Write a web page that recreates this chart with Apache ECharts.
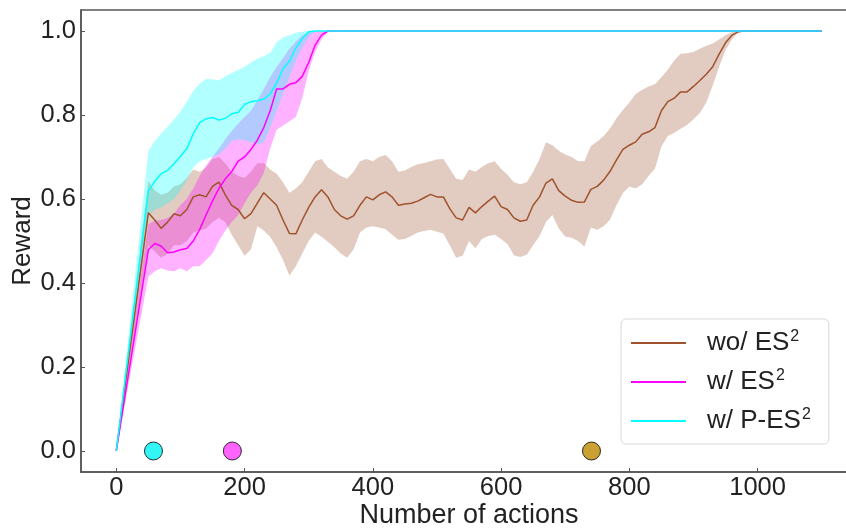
<!DOCTYPE html>
<html>
<head>
<meta charset="utf-8">
<script src="https://cdn.jsdelivr.net/npm/echarts@6/dist/echarts.min.js"></script>
<style>
  html, body { margin: 0; padding: 0; background: #fff; }
  #chart { width: 846px; height: 528px; }
</style>
</head>
<body>
<div id="chart"></div>
<script>
// x positions (number of actions)
const actions = [0,
  50, 60, 70, 80, 90, 100, 110, 120, 130, 140,
  150, 160, 170, 180, 190, 200, 210, 220, 230, 240,
  250, 260, 270, 280, 290, 300, 310, 320, 330, 340,
  350, 360, 370, 380, 390, 400, 410, 420, 430, 440,
  450, 460, 470, 480, 490, 500, 510, 520, 530, 540,
  550, 560, 570, 580, 590, 600, 610, 620, 630, 640,
  650, 660, 670, 680, 690, 700, 710, 720, 730, 740,
  750, 760, 770, 780, 790, 800, 810, 820, 830, 840,
  850, 860, 870, 880, 890, 900, 910, 920, 930, 940,
  950, 960, 970, 980, 990, 1000,
  1100]
const actionsEarly = [0,
  50, 60, 70, 80, 90, 100, 110, 120, 130, 140,
  150, 160, 170, 180, 190, 200, 210, 220, 230, 240,
  250, 260, 270, 280, 290, 300, 310, 320, 330, 340,
  1100]

// wo/ ES2
const woMean = [0,
  0.567, 0.55, 0.53, 0.545, 0.565, 0.56, 0.575, 0.605, 0.61, 0.605,
  0.63, 0.64, 0.61, 0.585, 0.575, 0.553, 0.565, 0.59, 0.615, 0.60,
  0.585, 0.55, 0.518, 0.517, 0.55, 0.58, 0.605, 0.622, 0.605, 0.575,
  0.56, 0.552, 0.56, 0.585, 0.605, 0.598, 0.61, 0.617, 0.605, 0.585,
  0.588, 0.59, 0.595, 0.603, 0.611, 0.605, 0.605, 0.577, 0.555, 0.55,
  0.58, 0.567, 0.582, 0.595, 0.607, 0.582, 0.575, 0.555, 0.547, 0.55,
  0.585, 0.605, 0.638, 0.648, 0.62, 0.607, 0.597, 0.592, 0.593, 0.623,
  0.63, 0.645, 0.666, 0.693, 0.718, 0.728, 0.736, 0.754, 0.76, 0.77,
  0.81, 0.832, 0.84, 0.855, 0.855, 0.868, 0.882, 0.897, 0.915, 0.945,
  0.972, 0.99, 0.998, 1.0, 1.0, 1.0,
  1.0]
const woUpper = [0,
  0.643, 0.62, 0.61, 0.615, 0.63, 0.635, 0.65, 0.67, 0.665, 0.675,
  0.695, 0.70, 0.685, 0.665, 0.655, 0.65, 0.665, 0.685, 0.685, 0.67,
  0.66, 0.64, 0.615, 0.625, 0.64, 0.665, 0.69, 0.695, 0.675, 0.665,
  0.655, 0.648, 0.665, 0.69, 0.695, 0.69, 0.70, 0.705, 0.69, 0.665,
  0.668, 0.676, 0.683, 0.686, 0.69, 0.694, 0.695, 0.672, 0.648, 0.645,
  0.67, 0.665, 0.676, 0.685, 0.69, 0.672, 0.658, 0.64, 0.635, 0.64,
  0.665, 0.695, 0.735, 0.728, 0.715, 0.706, 0.70, 0.69, 0.69, 0.726,
  0.737, 0.75, 0.768, 0.792, 0.812, 0.83, 0.85, 0.86, 0.868, 0.873,
  0.89, 0.908, 0.93, 0.946, 0.947, 0.95, 0.958, 0.965, 0.97, 0.98,
  0.99, 0.997, 1.0, 1.0, 1.0, 1.0,
  1.0]
const woLower = [0,
  0.49, 0.475, 0.46, 0.47, 0.49, 0.49, 0.50, 0.52, 0.525, 0.53,
  0.545, 0.555, 0.545, 0.515, 0.49, 0.465, 0.48, 0.535, 0.525, 0.51,
  0.485, 0.455, 0.418, 0.44, 0.47, 0.50, 0.52, 0.51, 0.498, 0.485,
  0.47, 0.46, 0.48, 0.52, 0.532, 0.535, 0.532, 0.528, 0.515, 0.503,
  0.505, 0.512, 0.52, 0.524, 0.527, 0.522, 0.518, 0.49, 0.46, 0.465,
  0.50, 0.483, 0.505, 0.512, 0.515, 0.505, 0.493, 0.466, 0.462, 0.467,
  0.49, 0.512, 0.545, 0.562, 0.53, 0.511, 0.508, 0.50, 0.487, 0.532,
  0.527, 0.535, 0.551, 0.585, 0.614, 0.63, 0.625, 0.635, 0.655, 0.672,
  0.725, 0.75, 0.758, 0.767, 0.776, 0.79, 0.805, 0.83, 0.87, 0.915,
  0.955, 0.98, 0.998, 1.0, 1.0, 1.0,
  1.0]

// w/ ES2
const wMean = [0,
  0.479, 0.494, 0.488, 0.472, 0.474, 0.479, 0.482, 0.50, 0.527, 0.562,
  0.595, 0.625, 0.648, 0.665, 0.69, 0.70, 0.718, 0.74, 0.77, 0.81,
  0.862, 0.862, 0.873, 0.877, 0.892, 0.925, 0.966, 0.99, 1.0, 1.0,
  1.0]
const wUpper = [0,
  0.54, 0.548, 0.55, 0.555, 0.565, 0.585, 0.60, 0.625, 0.655, 0.68,
  0.70, 0.72, 0.742, 0.762, 0.78, 0.795, 0.81, 0.835, 0.862, 0.89,
  0.915, 0.935, 0.958, 0.975, 0.99, 0.997, 1.0, 1.0, 1.0, 1.0,
  1.0]
const wLower = [0,
  0.415, 0.428, 0.435, 0.43, 0.428, 0.435, 0.428, 0.44, 0.44, 0.455,
  0.47, 0.50, 0.525, 0.545, 0.562, 0.59, 0.615, 0.633, 0.662, 0.72,
  0.765, 0.775, 0.785, 0.795, 0.84, 0.905, 0.95, 0.98, 0.998, 1.0,
  1.0]

// w/ P-ES2
const pMean = [0,
  0.619, 0.642, 0.66, 0.668, 0.684, 0.702, 0.72, 0.755, 0.782, 0.791,
  0.794, 0.788, 0.792, 0.803, 0.806, 0.825, 0.832, 0.834, 0.838, 0.85,
  0.876, 0.91, 0.928, 0.96, 0.982, 0.998, 1.0, 1.0, 1.0, 1.0,
  1.0]
const pUpper = [0,
  0.714, 0.738, 0.756, 0.772, 0.79, 0.808, 0.832, 0.857, 0.875, 0.886,
  0.885, 0.882, 0.892, 0.90, 0.907, 0.915, 0.925, 0.934, 0.94, 0.948,
  0.973, 0.985, 0.99, 0.996, 0.998, 1.0, 1.0, 1.0, 1.0, 1.0,
  1.0]
const pLower = [0,
  0.56, 0.575, 0.58, 0.59, 0.60, 0.62, 0.645, 0.675, 0.69, 0.695,
  0.70, 0.706, 0.72, 0.738, 0.742, 0.74, 0.735, 0.73, 0.735, 0.77,
  0.81, 0.85, 0.89, 0.93, 0.96, 0.985, 1.0, 1.0, 1.0, 1.0,
  1.0]

// markers on the x axis
const markerActions = [58, 181, 741]
const markerRewards = [0, 0, 0]

const xTicks = [0, 200, 400, 600, 800, 1000]
const yTicks = [0, 0.2, 0.4, 0.6, 0.8, 1.0]
const seriesNames = ['wo/ ES2', 'w/ ES2', 'w/ P-ES2']

const FONT = '"Liberation Sans", Arial, sans-serif'
const chart = echarts.init(document.getElementById('chart'), null, { renderer: 'canvas' })

function pairs(xs, ys) {
  return xs.map((x, i) => [x, ys[i]])
}

// shaded region between lower and upper, drawn as one polygon
function bandSeries(xs, lower, upper, fill) {
  return {
    type: 'custom',
    silent: true,
    clip: true,
    data: [[xs[0], lower[0]]],
    renderItem: (params, api) => {
      const top = xs.map((x, i) => api.coord([x, upper[i]]))
      const bottom = xs.map((x, i) => api.coord([x, lower[i]])).reverse()
      return {
        type: 'polygon',
        shape: { points: top.concat(bottom) },
        style: { fill }
      }
    }
  }
}

function meanSeries(name, xs, ys, color) {
  return {
    name,
    type: 'line',
    data: pairs(xs, ys),
    symbol: 'none',
    silent: true,
    itemStyle: { color },
    lineStyle: { color, width: 1.5 }
  }
}

const markerColors = ['#00f2f2', '#ff3dff', '#bf8900']

chart.setOption({
  animation: false,
  grid: {
    left: 81, top: 10, width: 776, height: 462,
    containLabel: false, outerBoundsMode: 'none',
    show: true, borderColor: '#555', borderWidth: 1.5
  },
  xAxis: {
    type: 'value',
    min: -55,
    max: 1155,
    name: 'Number of actions',
    nameLocation: 'middle',
    nameGap: 30,
    nameMoveOverlap: false,
    nameTextStyle: { fontSize: 27, color: '#222', fontFamily: FONT },
    axisLine: { onZero: false, lineStyle: { color: '#555', width: 1.5 } },
    axisTick: { show: true, inside: true, length: 4, customValues: xTicks, lineStyle: { color: '#555' } },
    axisLabel: { customValues: xTicks, fontSize: 25.5, color: '#222', fontFamily: FONT, margin: 3,
      formatter: v => String(v) },
    splitLine: { show: false }
  },
  yAxis: {
    type: 'value',
    min: -0.05,
    max: 1.05,
    name: 'Reward',
    nameLocation: 'middle',
    nameGap: 45,
    nameMoveOverlap: false,
    nameTextStyle: { fontSize: 26, color: '#222', fontFamily: FONT },
    axisLine: { show: true, onZero: false, lineStyle: { color: '#555', width: 1.5 } },
    axisTick: { show: true, inside: true, length: 4, customValues: yTicks, lineStyle: { color: '#555' } },
    axisLabel: { customValues: yTicks, fontSize: 25.5, color: '#222', fontFamily: FONT, margin: 5,
      formatter: v => v.toFixed(1) },
    splitLine: { show: false }
  },
  legend: {
    data: seriesNames,
    orient: 'vertical',
    left: 621,
    top: 319,
    padding: [10, 18, 10, 10],
    icon: 'rect',
    itemWidth: 55,
    itemHeight: 2,
    itemGap: 12,
    borderColor: '#d9d9d9',
    borderWidth: 1,
    borderRadius: 5,
    backgroundColor: 'rgba(255,255,255,0.8)',
    formatter: name => '{a|' + name.slice(0, -1) + '}{s|2}',
    textStyle: {
      fontFamily: FONT,
      color: '#222',
      rich: {
        a: { fontSize: 26, fontFamily: FONT, color: '#222', padding: [0, 0, 0, 16] },
        s: { fontSize: 16, fontFamily: FONT, color: '#222', padding: [0, 0, 12, 1] }
      }
    }
  },
  series: [
    bandSeries(actions, woLower, woUpper, 'rgba(160,82,45,0.3)'),
    meanSeries(seriesNames[0], actions, woMean, '#a0522d'),
    bandSeries(actionsEarly, wLower, wUpper, 'rgba(255,0,255,0.3)'),
    meanSeries(seriesNames[1], actionsEarly, wMean, '#ff00ff'),
    bandSeries(actionsEarly, pLower, pUpper, 'rgba(0,255,255,0.3)'),
    meanSeries(seriesNames[2], actionsEarly, pMean, '#00ffff'),
    {
      type: 'scatter',
      silent: true,
      z: 5,
      symbolSize: 18,
      data: markerActions.map((x, i) => ({
        value: [x, markerRewards[i]],
        itemStyle: { color: markerColors[i], borderColor: '#000', borderWidth: 1 }
      }))
    }
  ]
})
</script>
</body>
</html>
